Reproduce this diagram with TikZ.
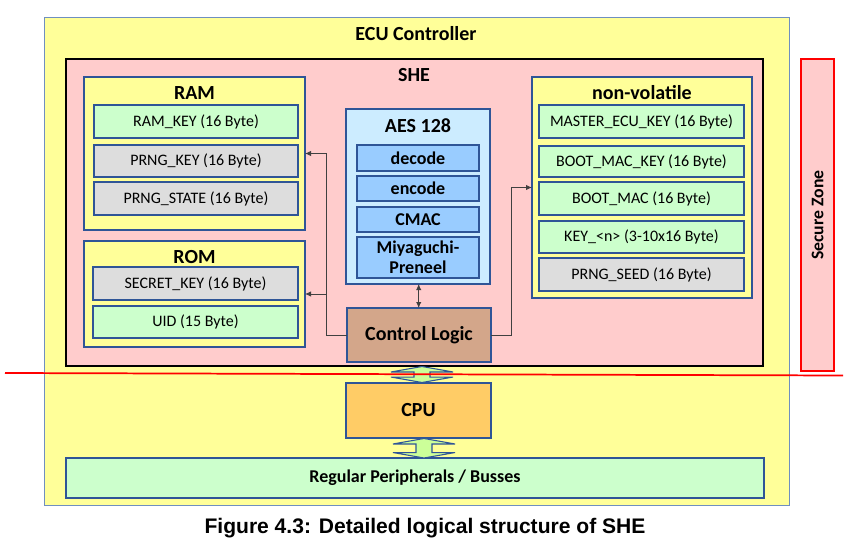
\documentclass[tikz,border=0pt]{standalone}
\usepackage{fontspec}
\setmainfont{Carlito}
\newfontfamily\capfont{Liberation Sans}
\usetikzlibrary{arrows.meta,calc}
\definecolor{ecuyellow}{HTML}{FFFF99}
\definecolor{shepink}{HTML}{FFCCCC}
\definecolor{boxgreen}{HTML}{CCFFCC}
\definecolor{boxgrey}{HTML}{DDDDDD}
\definecolor{aesblue}{HTML}{CCECFF}
\definecolor{aesinner}{HTML}{99CCFF}
\definecolor{ctrlbrown}{HTML}{D3A68A}
\definecolor{cpuorange}{HTML}{FFCC66}
\definecolor{arrowgreen}{HTML}{CCFF99}
\definecolor{bordblue}{HTML}{2F5597}
\definecolor{ecuborder}{HTML}{6F8FC0}
\definecolor{connc}{HTML}{404040}
\newcommand\mkbox[7]{\node[#1, minimum width={(#5-#3)*0.75pt}, minimum height={(#6-#4)*0.75pt}] (#2) at ({(#3+#5)/2},{(#4+#6)/2}) {#7};}
\newcommand\dblarr[2]{\draw[dblarrow] let \p1=(#1), \p2=(#2) in
  (\x1,\y1) -- (\x1+23.25pt,\y1-4.1pt) -- (\x1+6pt,\y1-4.1pt) -- (\x1+6pt,\y2+4.1pt)
  -- (\x1+23.25pt,\y2+4.1pt) -- (\x1,\y2) -- (\x1-23.25pt,\y2+4.1pt) -- (\x1-6pt,\y2+4.1pt)
  -- (\x1-6pt,\y1-4.1pt) -- (\x1-23.25pt,\y1-4.1pt) -- cycle;}
\begin{document}
\begin{tikzpicture}[x=0.75pt,y=-0.75pt,
  base/.style={rectangle, inner sep=0pt, outer sep=0pt, align=center},
  ecubox/.style={base, fill=ecuyellow, draw=ecuborder, line width=0.6pt},
  shebox/.style={base, fill=shepink, draw=black, line width=1.6pt},
  membox/.style={base, fill=ecuyellow, draw=bordblue, line width=0.9pt},
  itemtext/.style={font=\fontsize{12}{14}\selectfont},
  greenitem/.style={base, fill=boxgreen, draw=bordblue, line width=1pt, itemtext},
  greyitem/.style={base, fill=boxgrey, draw=bordblue, line width=1pt, itemtext},
  aesbox/.style={base, fill=aesblue, draw=bordblue, line width=0.9pt},
  aesitem/.style={base, fill=aesinner, draw=bordblue, line width=1pt, font=\bfseries\fontsize{13.5}{15}\selectfont},
  ctrlbox/.style={base, fill=ctrlbrown, draw=bordblue, line width=0.9pt, font=\bfseries\fontsize{15}{18}\selectfont},
  cpubox/.style={base, fill=cpuorange, draw=bordblue, line width=0.9pt, font=\bfseries\fontsize{15}{18}\selectfont},
  periphbox/.style={base, fill=boxgreen, draw=bordblue, line width=0.9pt, font=\bfseries\fontsize{13.5}{16}\selectfont},
  securebox/.style={base, fill=shepink, draw=red, line width=1.3pt},
  titletext/.style={inner sep=0pt, font=\bfseries\fontsize{15}{18}\selectfont},
  conn/.style={draw=connc, line width=0.6pt, -{Latex[length=4.5pt,width=4pt]}},
  dconn/.style={draw=connc, line width=0.6pt, {Latex[length=4.5pt,width=4pt]}-{Latex[length=4.5pt,width=4pt]}},
  dblarrow/.style={fill=arrowgreen, draw=bordblue, line width=0.8pt, line join=miter}
]
\useasboundingbox (0,0) rectangle (844,539);
\fill[white] (0,0) rectangle (844,539);

% outer ECU
\mkbox{ecubox}{ecu}{44}{17}{789}{505}{}
\node[titletext] (ecut) at (416,34) {ECU Controller};

% SHE
\mkbox{shebox}{she}{66}{59}{763}{366}{}
\node[titletext] (shet) at (414,75) {SHE};

% RAM
\mkbox{membox}{ram}{84}{77}{305}{230}{}
\node[titletext] (ramt) at (194.5,93) {RAM};
\mkbox{greenitem}{ramkey}{94}{105}{298}{138}{RAM\_KEY (16 Byte)}
\mkbox{greyitem}{prngkey}{94}{145}{298}{177}{PRNG\_KEY (16 Byte)}
\mkbox{greyitem}{prngstate}{94}{182}{298}{215}{PRNG\_STATE (16 Byte)}

% ROM
\mkbox{membox}{rom}{84}{241}{305}{347}{}
\node[titletext] (romt) at (194.5,257) {ROM};
\mkbox{greyitem}{secret}{93}{267}{298}{300}{SECRET\_KEY (16 Byte)}
\mkbox{greenitem}{uid}{93}{306}{298}{338}{UID (15 Byte)}

% AES
\mkbox{aesbox}{aes}{346}{109}{490}{284}{}
\node[titletext] (aest) at (418,126) {AES 128};
\mkbox{aesitem}{decode}{357}{145}{479}{171}{decode}
\mkbox{aesitem}{encode}{357}{176}{479}{201}{encode}
\mkbox{aesitem}{cmac}{357}{207}{479}{232}{CMAC}
\mkbox{aesitem}{miya}{357}{237}{479}{278}{Miyaguchi-\\Preneel}

% Control logic
\mkbox{ctrlbox}{ctrl}{347}{308}{491}{362}{Control Logic}

% non-volatile
\mkbox{membox}{nv}{532}{77}{752}{298}{}
\node[titletext] (nvt) at (642,93) {non-volatile};
\mkbox{greenitem}{master}{539}{105}{744}{138}{MASTER\_ECU\_KEY (16 Byte)}
\mkbox{greenitem}{bootkey}{539}{146}{744}{177}{BOOT\_MAC\_KEY (16 Byte)}
\mkbox{greenitem}{bootmac}{539}{182}{744}{215}{BOOT\_MAC (16 Byte)}
\mkbox{greenitem}{keyn}{539}{221}{744}{253}{KEY\_<n> (3-10x16 Byte)}
\mkbox{greyitem}{prngseed}{539}{258}{744}{291}{PRNG\_SEED (16 Byte)}

% connectors
\coordinate (jl) at (326,335);
\coordinate (jr) at (511.7,335);
\coordinate (jm) at (418.7,300);
\draw[conn] (ctrl.west) -| (jl |- ram.east) -- (ram.east);
\draw[conn] (jl |- rom.east) -- (rom.east);
\draw[conn] (ctrl.east) -| (jr |- nv.west) -- (nv.west);
\draw[dconn] (jm |- aes.south) -- (jm |- ctrl.north);

% CPU and peripherals
\mkbox{cpubox}{cpu}{346}{383}{491}{438}{CPU}
\mkbox{periphbox}{periph}{66}{458}{764}{498}{Regular Peripherals / Busses}

\coordinate (a1t) at (422,366.5);
\coordinate (a1b) at (422,382.5);
\coordinate (a2t) at (424,438.5);
\coordinate (a2b) at (424,458);
\dblarr{a1t}{a1b}
\dblarr{a2t}{a2b}

% secure zone
\mkbox{securebox}{secure}{801}{59}{834}{371}{}
\node[titletext, rotate=90, font=\bfseries\fontsize{13.3}{16}\selectfont] (securet) at (secure.center) {Secure Zone};

% red boundary line
\coordinate (rl1) at (5,373);
\coordinate (rl2) at (843,375.5);
\draw[red, line width=1.3pt] (rl1) -- (rl2);

% caption
\node[inner sep=0pt, font=\capfont\bfseries\fontsize{15.8}{18}\selectfont] (cap) at (425,528) {Figure 4.3: Detailed logical structure of SHE};
\end{tikzpicture}
\end{document}
